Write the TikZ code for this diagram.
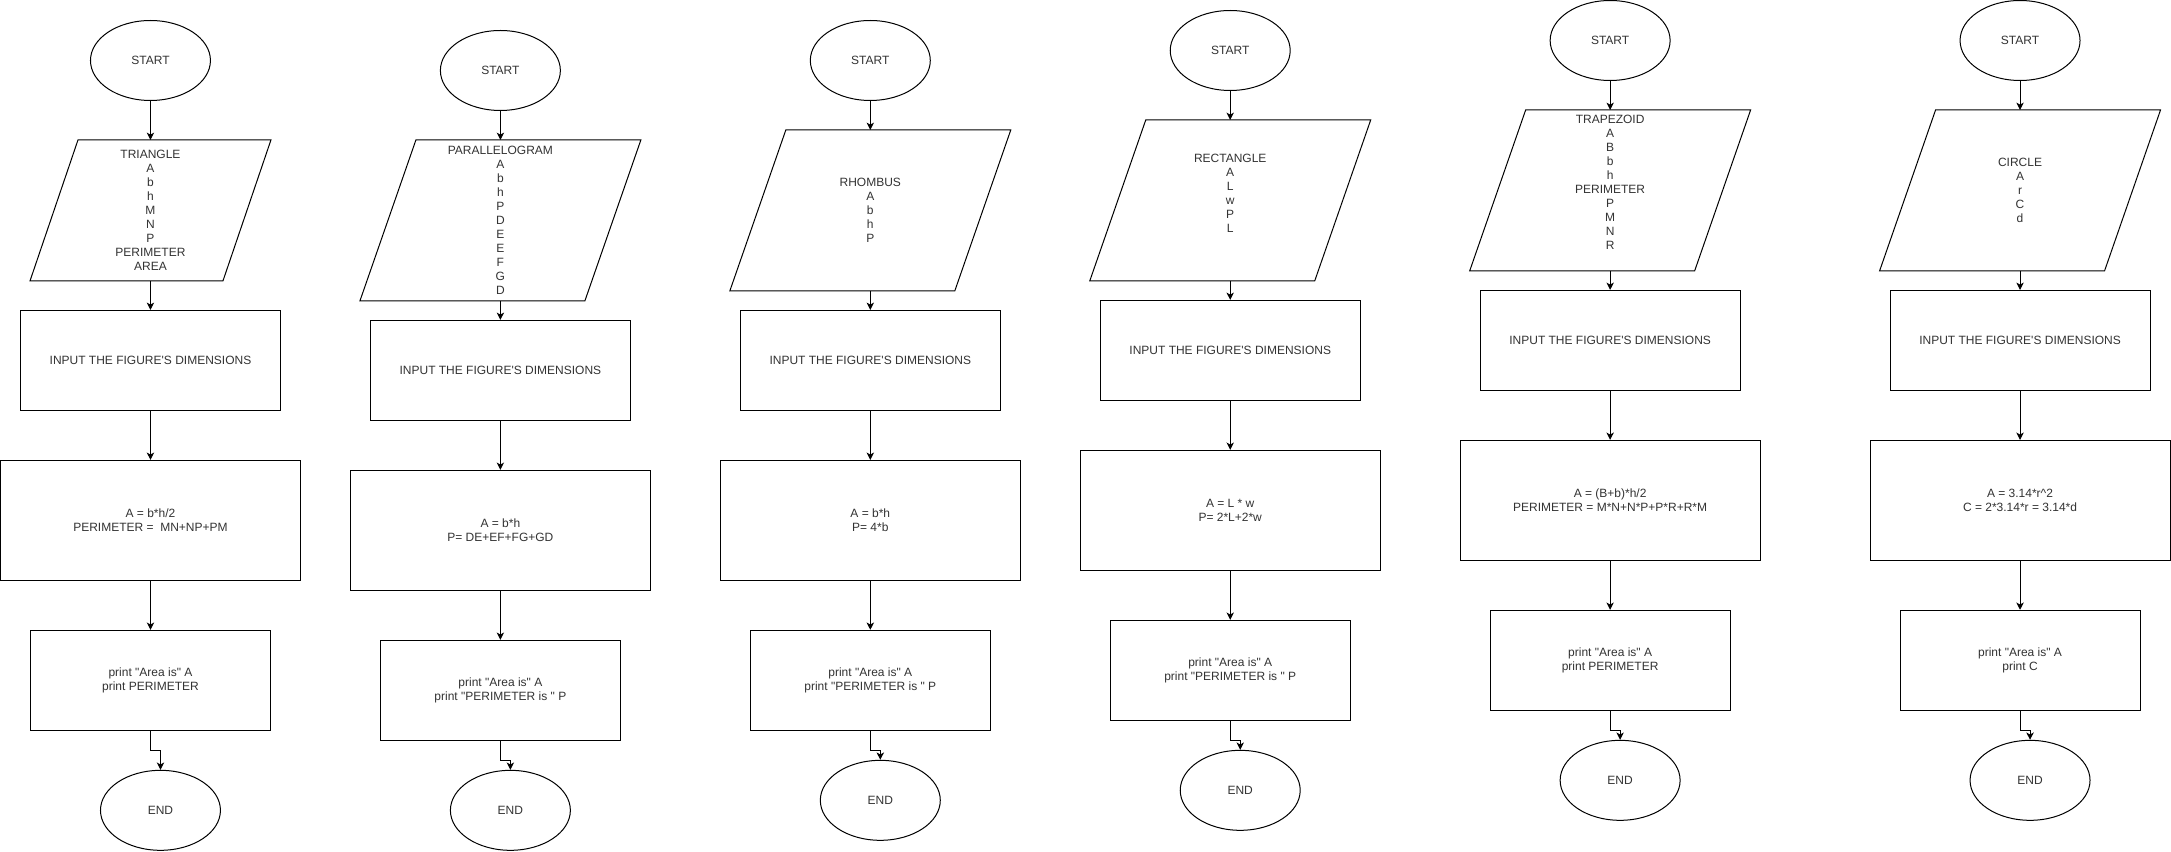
\documentclass[tikz,border=0pt]{standalone}
\usepackage{fontspec}
\setmainfont{Liberation Sans}[Ligatures=TeXOff]
\usetikzlibrary{arrows.meta,shapes.geometric}

\definecolor{txtgray}{RGB}{51,51,51}
\newcommand{\flowfont}{\fontsize{9}{10.5}\selectfont}

\tikzset{every picture/.style={line width=0.75pt}}
\tikzset{
  startend/.style={draw, ellipse, minimum width=90pt, minimum height=60pt, inner sep=0pt, font=\flowfont, text=txtgray},
  inputbox/.style={rectangle, minimum width=210pt, minimum height=120pt, inner sep=0pt, align=center, font=\flowfont, text=txtgray},
  procbox/.style={draw, rectangle, minimum width=195pt, minimum height=75pt, inner sep=0pt, align=center, font=\flowfont, text=txtgray},
  flowarrow/.style={-{Stealth[length=5.5pt,width=5.5pt,inset=1.5pt]}}
}

\begin{document}
\begin{tikzpicture}[x=0.75pt,y=0.75pt,yscale=-1,xscale=1]
%set diagram left start at 0, and has height of 851
\fill[white] (0,0) rectangle (2171,851);

%% TRIANGLE
% Shape: Ellipse
\node[startend] (s1) at (150,60) {START};
% Shape: Parallelogram
\node[inputbox, minimum width=180pt, minimum height=105pt] (d1) at (150,210) {TRIANGLE\\A\\b\\h\\M\\N\\P\\PERIMETER\\AREA};
% Shape: Rectangle
\node[procbox] (i1) at (150,360) {INPUT THE FIGURE'S DIMENSIONS};
\node[procbox, minimum width=225pt, minimum height=90pt] (c1) at (150,520) {A = b*h/2\\PERIMETER =\ \ MN+NP+PM};
\node[procbox, minimum width=180pt] (p1) at (150,680) {print "Area is" A\\print PERIMETER};
% Shape: Ellipse
\node[startend] (e1) at (160,810) {END};

%% PARALLELOGRAM
\node[startend] (s2) at (500,70) {START};
\node[inputbox] (d2) at (500,220) {PARALLELOGRAM\\A\\b\\h\\P\\D\\E\\E\\F\\G\\D};
\node[procbox] (i2) at (500,370) {INPUT THE FIGURE'S DIMENSIONS};
\node[procbox, minimum width=225pt, minimum height=90pt] (c2) at (500,530) {A = b*h\\P= DE+EF+FG+GD};
\node[procbox, minimum width=180pt] (p2) at (500,690) {print "Area is" A\\print "PERIMETER is " P};
\node[startend] (e2) at (510,810) {END};

%% RHOMBUS
\node[startend] (s3) at (870,60) {START};
\node[inputbox] (d3) at (870,210) {RHOMBUS\\A\\b\\h\\P};
\node[procbox] (i3) at (870,360) {INPUT THE FIGURE'S DIMENSIONS};
\node[procbox, minimum width=225pt, minimum height=90pt] (c3) at (870,520) {A = b*h\\P= 4*b};
\node[procbox, minimum width=180pt] (p3) at (870,680) {print "Area is" A\\print "PERIMETER is " P};
\node[startend] (e3) at (880,800) {END};

%% RECTANGLE
\node[startend] (s4) at (1230,50) {START};
\node[inputbox, text depth=10.5pt] (d4) at (1230,200) {RECTANGLE\\A\\L\\w\\P\\L};
\node[procbox] (i4) at (1230,350) {INPUT THE FIGURE'S DIMENSIONS};
\node[procbox, minimum width=225pt, minimum height=90pt] (c4) at (1230,510) {A = L * w\\P= 2*L+2*w};
\node[procbox, minimum width=180pt] (p4) at (1230,670) {print "Area is" A\\print "PERIMETER is " P};
\node[startend] (e4) at (1240,790) {END};

%% TRAPEZOID
\node[startend] (s5) at (1610,40) {START};
\node[inputbox, text depth=12pt] (d5) at (1610,190) {TRAPEZOID\\A\\B\\b\\h\\PERIMETER\\P\\M\\N\\R};
\node[procbox] (i5) at (1610,340) {INPUT THE FIGURE'S DIMENSIONS};
\node[procbox, minimum width=225pt, minimum height=90pt] (c5) at (1610,500) {A = (B+b)*h/2\\PERIMETER = M*N+N*P+P*R+R*M};
\node[procbox, minimum width=180pt] (p5) at (1610,660) {print "Area is" A\\print PERIMETER};
\node[startend] (e5) at (1620,780) {END};

%% CIRCLE
\node[startend] (s6) at (2020,40) {START};
\node[inputbox] (d6) at (2020,190) {CIRCLE\\A\\r\\C\\d};
\node[procbox] (i6) at (2020,340) {INPUT THE FIGURE'S DIMENSIONS};
\node[procbox, minimum width=225pt, minimum height=90pt] (c6) at (2020,500) {A = 3.14*r\textasciicircum 2\\C = 2*3.14*r = 3.14*d};
\node[procbox, minimum width=180pt] (p6) at (2020,660) {print "Area is" A\\print C};
\node[startend] (e6) at (2030,780) {END};

% Shape: Parallelogram outlines
\draw (d1.south west) -- ([xshift=36pt]d1.north west) -- (d1.north east) -- ([xshift=-36pt]d1.south east) -- cycle;
\draw (d2.south west) -- ([xshift=42pt]d2.north west) -- (d2.north east) -- ([xshift=-42pt]d2.south east) -- cycle;
\draw (d3.south west) -- ([xshift=42pt]d3.north west) -- (d3.north east) -- ([xshift=-42pt]d3.south east) -- cycle;
\draw (d4.south west) -- ([xshift=42pt]d4.north west) -- (d4.north east) -- ([xshift=-42pt]d4.south east) -- cycle;
\draw (d5.south west) -- ([xshift=42pt]d5.north west) -- (d5.north east) -- ([xshift=-42pt]d5.south east) -- cycle;
\draw (d6.south west) -- ([xshift=42pt]d6.north west) -- (d6.north east) -- ([xshift=-42pt]d6.south east) -- cycle;

% Connection
\draw[flowarrow] (s1.south) -- (d1.north);
\draw[flowarrow] (d1.south) -- (i1.north);
\draw[flowarrow] (i1.south) -- (c1.north);
\draw[flowarrow] (c1.south) -- (p1.north);
\draw[flowarrow] (p1.south) -- ++(0,20) -| (e1.north);
% Connection
\draw[flowarrow] (s2.south) -- (d2.north);
\draw[flowarrow] (d2.south) -- (i2.north);
\draw[flowarrow] (i2.south) -- (c2.north);
\draw[flowarrow] (c2.south) -- (p2.north);
\draw[flowarrow] (p2.south) -- ++(0,20) -| (e2.north);
% Connection
\draw[flowarrow] (s3.south) -- (d3.north);
\draw[flowarrow] (d3.south) -- (i3.north);
\draw[flowarrow] (i3.south) -- (c3.north);
\draw[flowarrow] (c3.south) -- (p3.north);
\draw[flowarrow] (p3.south) -- ++(0,20) -| (e3.north);
% Connection
\draw[flowarrow] (s4.south) -- (d4.north);
\draw[flowarrow] (d4.south) -- (i4.north);
\draw[flowarrow] (i4.south) -- (c4.north);
\draw[flowarrow] (c4.south) -- (p4.north);
\draw[flowarrow] (p4.south) -- ++(0,20) -| (e4.north);
% Connection
\draw[flowarrow] (s5.south) -- (d5.north);
\draw[flowarrow] (d5.south) -- (i5.north);
\draw[flowarrow] (i5.south) -- (c5.north);
\draw[flowarrow] (c5.south) -- (p5.north);
\draw[flowarrow] (p5.south) -- ++(0,20) -| (e5.north);
% Connection
\draw[flowarrow] (s6.south) -- (d6.north);
\draw[flowarrow] (d6.south) -- (i6.north);
\draw[flowarrow] (i6.south) -- (c6.north);
\draw[flowarrow] (c6.south) -- (p6.north);
\draw[flowarrow] (p6.south) -- ++(0,20) -| (e6.north);

\end{tikzpicture}
\end{document}
